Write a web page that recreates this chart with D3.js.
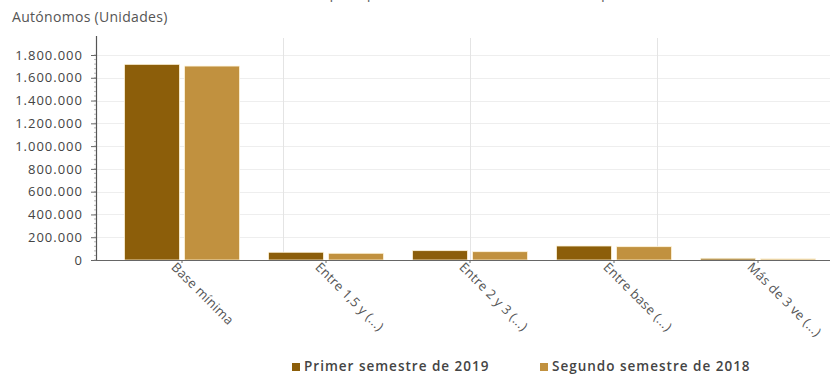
<!DOCTYPE html>
<html>
<head>
<meta charset="utf-8">
<script src="https://cdn.jsdelivr.net/npm/d3@7"></script>
<style>
	body { margin: 0; background: #fff; }
	svg { display: block; font-family: 'Open Sans', sans-serif; }
</style>
</head>
<body>
<svg id="chart" width="830" height="382"></svg>
<script>
const categories = ['Base mínima', 'Entre 1,5 y (...)', 'Entre 2 y 3 (...)', 'Entre base (...)', 'Más de 3 ve (...)'];
const seriesNames = ['Primer semestre de 2019', 'Segundo semestre de 2018'];
const primer2019 = [1718000, 68000, 82000, 123000, 15000];
const segundo2018 = [1703000, 59000, 73000, 117000, 10000];
const yTicks = [0, 200000, 400000, 600000, 800000, 1000000, 1200000, 1400000, 1600000, 1800000];
const colors = ['#8c5e0a', '#c1913f'];

const svg = d3.select('#chart');
const fmt = d => d3.format(',')(d).replace(/,/g, '.');

// Scales
const x = d3.scaleBand().domain(categories).range([110, 830]);
const xSeries = d3.scaleBand().domain(seriesNames).range([0, x.bandwidth()])
	.paddingInner(0.083).paddingOuter(0.24);
const y = d3.scaleLinear().domain([0, 1800000]).range([260, 55]);
const xGrid = d3.scaleLinear().domain([0, 4]).range([96, 844]);

// Truncated title (mostly above the frame)
svg.append('text')
	.attr('x', 450).attr('y', -2)
	.attr('text-anchor', 'middle')
	.attr('font-size', 15).attr('fill', '#666')
	.text('Autónomos por tipo de base de cotización en cada periodo');

// Grid lines
svg.append('g').selectAll('line').data(yTicks.slice(1)).enter().append('line')
	.attr('x1', 96).attr('x2', 830)
	.attr('y1', d => Math.round(y(d)) + 0.5).attr('y2', d => Math.round(y(d)) + 0.5)
	.attr('stroke', '#eeeeee').attr('stroke-width', 1);
svg.append('g').selectAll('line').data([1, 2, 3]).enter().append('line')
	.attr('x1', d => Math.round(xGrid(d)) + 0.5).attr('x2', d => Math.round(xGrid(d)) + 0.5)
	.attr('y1', 38).attr('y2', 260)
	.attr('stroke', '#e4e4e4').attr('stroke-width', 1);

// Bars
const groups = svg.append('g').selectAll('g').data(categories).enter().append('g')
	.attr('transform', d => `translate(${x(d)},0)`);
groups.selectAll('rect')
	.data((d, i) => [primer2019[i], segundo2018[i]].map((v, j) => ({ name: seriesNames[j], value: v, j })))
	.enter().append('rect')
	.attr('x', d => xSeries(d.name))
	.attr('width', xSeries.bandwidth())
	.attr('y', d => y(d.value))
	.attr('height', d => y(0) - y(d.value))
	.attr('fill', d => colors[d.j])
	.attr('stroke', '#fff6dc').attr('stroke-width', 0.8);

// Y axis
const yAxis = svg.append('g').attr('transform', 'translate(96,0)')
	.call(d3.axisLeft(y).tickValues(yTicks).tickFormat(fmt).tickSize(5).tickPadding(8));
yAxis.select('.domain').remove();
yAxis.selectAll('text')
	.attr('font-size', 13).attr('letter-spacing', '1px')
	.attr('fill', '#444').attr('font-family', "'Open Sans', sans-serif");
yAxis.selectAll('line').attr('stroke', '#666');
svg.append('g').selectAll('line').data(d3.range(0, 1800001, 40000)).enter().append('line')
	.attr('x1', 94).attr('x2', 96)
	.attr('y1', d => y(d)).attr('y2', d => y(d))
	.attr('stroke', '#888').attr('stroke-width', 0.6);
svg.append('line').attr('x1', 96.5).attr('x2', 96.5).attr('y1', 36).attr('y2', 260)
	.attr('stroke', '#555').attr('stroke-width', 1.2);

// X axis
const xAxis = svg.append('g').attr('transform', 'translate(0,260)')
	.call(d3.axisBottom(x).tickSize(3).tickSizeOuter(0));
xAxis.select('.domain').attr('d', 'M96,0.5H830').attr('stroke', '#666').attr('stroke-width', 1.2);
xAxis.selectAll('.tick line').attr('stroke', '#666');
xAxis.selectAll('text')
	.attr('font-size', 13).attr('letter-spacing', '0.3px')
	.attr('fill', '#555').attr('font-family', "'Open Sans', sans-serif")
	.attr('text-anchor', 'start')
	.attr('transform', 'translate(-11,2) rotate(45)')
	.attr('dy', '0.35em').attr('y', 0).attr('x', 4);

// Axis title
svg.append('text').attr('x', 12).attr('y', 22)
	.attr('font-size', 14).attr('letter-spacing', '0.3px').attr('fill', '#555')
	.text('Autónomos (Unidades)');

// Legend
const legendX = [292, 540];
const legend = svg.append('g').selectAll('g').data(seriesNames).enter().append('g')
	.attr('transform', (d, i) => `translate(${legendX[i]},371)`);
legend.append('rect').attr('x', 0).attr('y', -8).attr('width', 8).attr('height', 8)
	.attr('fill', (d, i) => colors[i]);
legend.append('text').attr('x', 12).attr('y', 0)
	.attr('font-size', 13.5).attr('letter-spacing', '1px')
	.attr('font-weight', 600).attr('fill', '#444')
	.text(d => d);
</script>
</body>
</html>
